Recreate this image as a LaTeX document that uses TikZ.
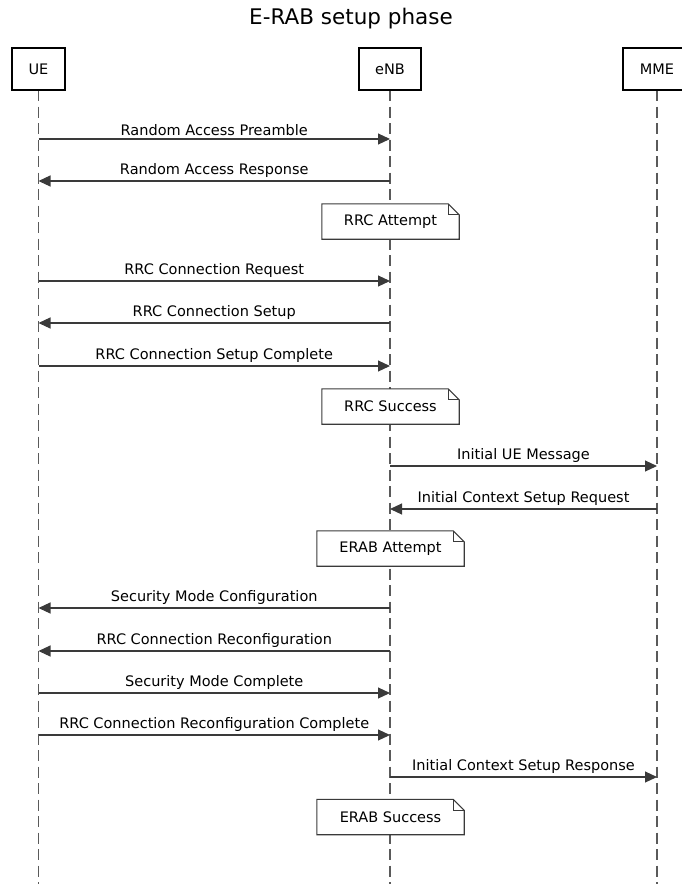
\documentclass[tikz,border=0pt]{standalone}
\usepackage{fontspec}
\setmainfont{DejaVu Sans}
\usetikzlibrary{arrows.meta}
\definecolor{ln}{HTML}{3A3A3A}
\definecolor{lf}{HTML}{5A5A5A}
\tikzset{
  actor/.style={draw=black, line width=2pt, fill=white, inner xsep=0pt, minimum height=42pt, font=\fontsize{14.5}{16}\selectfont, text height=10.5pt, text depth=0pt},
  life/.style={draw=lf, line width=1.2pt, dash pattern=on 11pt off 5.5pt},
  msg/.style={draw=ln, line width=1.1pt, -{Triangle[length=12pt,width=11pt]}},
  lbl/.style={font=\fontsize{14.5}{16}\selectfont, anchor=south, inner sep=0pt, yshift=2.5pt},
  notebox/.style={draw=none, fill=white, minimum height=35pt, font=\fontsize{14.5}{16}\selectfont},
}
\newcommand{\notefold}[1]{%
  \draw[draw=ln, line width=1.1pt] (#1.south west) -- (#1.north west) -- ([xshift=-11pt]#1.north east) -- ([yshift=-11pt]#1.north east) -- (#1.south east) -- cycle;
  \draw[draw=ln, line width=1.1pt] ([xshift=-11pt]#1.north east) -- ([xshift=-11pt,yshift=-11pt]#1.north east) -- ([yshift=-11pt]#1.north east);
}
\begin{document}
\begin{tikzpicture}[x=1pt,y=-1pt]
\useasboundingbox (0,0) rectangle (681,884);
\node (title) at (351,19) {\fontsize{21.5}{24}\selectfont E-RAB setup phase};
% lifelines
\coordinate (ueb) at (38.5,884);
\coordinate (enbb) at (390,884);
\coordinate (mmeb) at (657,884);
\coordinate (uet) at (38.5,90);
\coordinate (enbt) at (390,90);
\coordinate (mmet) at (657,90);
\draw[life] (uet) -- (ueb);
\draw[life] (enbt) -- (enbb);
\draw[life] (mmet) -- (mmeb);
\node[actor, minimum width=53pt] (ue) at (38.5,69) {UE};
\node[actor, minimum width=62pt] (enb) at (390,69) {eNB};
\node[actor, minimum width=68pt] (mme) at (657,69) {MME};
% coordinates
\foreach \n/\y in {1/139,2/181,4/281,5/323,6/366,11/608,12/651,13/693,14/735}{
  \coordinate (u\n) at (38.5,\y);
  \coordinate (e\n) at (390,\y);
}
\foreach \n/\y in {8/466,9/509,15/777}{
  \coordinate (e\n) at (390,\y);
  \coordinate (m\n) at (657,\y);
}
\draw[msg] (u1) -- node[lbl] {Random Access Preamble} (e1);
\draw[msg] (e2) -- node[lbl] {Random Access Response} (u2);
\node[notebox, minimum width=137pt] (n1) at (390.5,221.5) {RRC Attempt};
\notefold{n1}
\draw[msg] (u4) -- node[lbl] {RRC Connection Request} (e4);
\draw[msg] (e5) -- node[lbl] {RRC Connection Setup} (u5);
\draw[msg] (u6) -- node[lbl] {RRC Connection Setup Complete} (e6);
\node[notebox, minimum width=137pt] (n2) at (390.5,406.5) {RRC Success};
\notefold{n2}
\draw[msg] (e8) -- node[lbl] {Initial UE Message} (m8);
\draw[msg] (m9) -- node[lbl] {Initial Context Setup Request} (e9);
\node[notebox, minimum width=147pt] (n3) at (390.5,548.5) {ERAB Attempt};
\notefold{n3}
\draw[msg] (e11) -- node[lbl] {Security Mode Configuration} (u11);
\draw[msg] (e12) -- node[lbl] {RRC Connection Reconfiguration} (u12);
\draw[msg] (u13) -- node[lbl] {Security Mode Complete} (e13);
\draw[msg] (u14) -- node[lbl] {RRC Connection Reconfiguration Complete} (e14);
\draw[msg] (e15) -- node[lbl] {Initial Context Setup Response} (m15);
\node[notebox, minimum width=147pt] (n4) at (390.5,817) {ERAB Success};
\notefold{n4}
\end{tikzpicture}
\end{document}
